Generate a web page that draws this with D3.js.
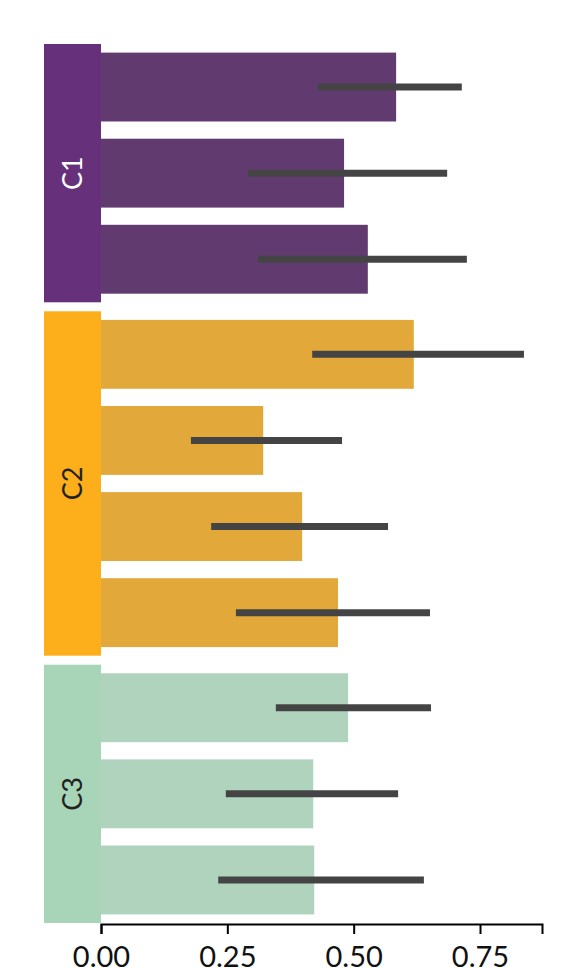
<!DOCTYPE html>
<html lang="en">
<head>
  <meta charset="utf-8">
  <title>Grouped bars</title>
  <script src="https://d3js.org/d3.v7.min.js" charset="utf-8"></script>
  <style type="text/css">
    body { margin: 0; background: #fff; }
    text { font-family: Lato, "Open Sans", sans-serif; }
  </style>
</head>
<body>
  <svg id="chart" width="584" height="968" xmlns="http://www.w3.org/2000/svg"></svg>
  <script type="text/javascript">
    // data
    var groups = ['C1', 'C2', 'C3'];
    var groupSizes = [3, 4, 3];
    var values = [0.584, 0.481, 0.528, 0.619, 0.321, 0.398, 0.469, 0.489, 0.420, 0.422];
    var errLow = [0.429, 0.291, 0.311, 0.418, 0.178, 0.218, 0.267, 0.346, 0.247, 0.232];
    var errHigh = [0.714, 0.685, 0.724, 0.837, 0.477, 0.568, 0.651, 0.653, 0.588, 0.639];
    var ticks = [0, 0.25, 0.5, 0.75];

    var groupColor = ['#66317a', '#fdae1b', '#a8d5b8'];
    var barColor = ['#613b70', '#e3a83a', '#b0d3bd'];
    var labelColor = ['#ffffff', '#222222', '#222222'];

    var plotTop = 44, plotBottom = 923, gap = 9, labelLeft = 44;
    var x = d3.scaleLinear().domain([0, 0.75]).range([101, 480]);
    var xMax = x.invert(542);

    var svg = d3.select('#chart');

    // one band scale per group, stacked with a small gap between groups
    var total = d3.sum(groupSizes);
    var slot = (plotBottom - plotTop - gap * (groups.length - 1)) / total;
    var rows = [];
    var gStart = plotTop, idx = 0;
    groups.forEach(function(g, gi) {
      var n = groupSizes[gi];
      var gEnd = gStart + n * slot;
      var y = d3.scaleBand().domain(d3.range(n)).range([gStart, gEnd])
        .paddingInner(0.2).paddingOuter(0.1);
      svg.append('rect')
        .attr('x', labelLeft)
        .attr('y', gStart)
        .attr('width', x(0) - labelLeft)
        .attr('height', gEnd - gStart)
        .style('fill', groupColor[gi]);
      svg.append('text')
        .attr('transform', 'translate(' + ((labelLeft + x(0)) / 2) + ',' + ((gStart + gEnd) / 2) + ') rotate(-90)')
        .attr('text-anchor', 'middle')
        .attr('dy', '0.36em')
        .attr('font-size', '27px')
        .style('fill', labelColor[gi])
        .text(g);
      for (var i = 0; i < n; i++) {
        rows.push({ g: gi, v: values[idx], lo: errLow[idx], hi: errHigh[idx], y: y(i), h: y.bandwidth() });
        idx++;
      }
      gStart = gEnd + gap;
    });

    svg.selectAll('rect.bar').data(rows).enter()
      .append('rect')
      .attr('class', 'bar')
      .attr('x', x(0))
      .attr('y', function(d) { return d.y; })
      .attr('width', function(d) { return x(d.v) - x(0); })
      .attr('height', function(d) { return d.h; })
      .style('fill', function(d) { return barColor[d.g]; });

    svg.selectAll('line.err').data(rows).enter()
      .append('line')
      .attr('class', 'err')
      .attr('x1', function(d) { return x(d.lo); })
      .attr('x2', function(d) { return x(d.hi); })
      .attr('y1', function(d) { return d.y + d.h / 2; })
      .attr('y2', function(d) { return d.y + d.h / 2; })
      .style('stroke', '#444444')
      .style('stroke-width', 7);

    // x axis
    var axisX = d3.scaleLinear().domain([0, xMax]).range([x(0), 542]);
    var axis = svg.append('g')
      .attr('transform', 'translate(0,' + (plotBottom + 1) + ')')
      .call(d3.axisBottom(axisX).tickValues(ticks).tickFormat(d3.format('.2f')).tickSizeOuter(0).tickSize(10).tickPadding(12));
    axis.select('.domain').style('stroke', '#000').style('stroke-width', 2);
    axis.selectAll('.tick line').style('stroke', '#000').style('stroke-width', 2);
    axis.selectAll('.tick text')
      .attr('font-size', '29px')
      .style('font-family', 'Lato, sans-serif')
      .style('fill', '#111');
  </script>
</body>
</html>
